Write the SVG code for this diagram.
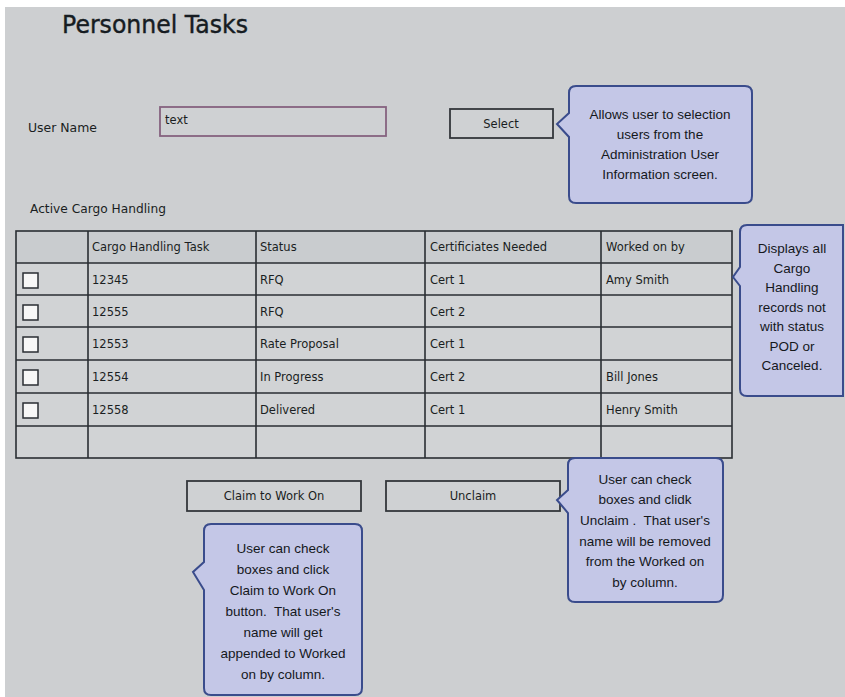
<svg xmlns="http://www.w3.org/2000/svg" width="845" height="697" viewBox="0 0 845 697">
<style>
.ui{font-family:"DejaVu Sans","Liberation Sans",sans-serif;font-size:11.5px;fill:#1a1e22}
.note{font-family:"Liberation Sans",Arial,sans-serif;font-size:13.5px;fill:#15181c;text-anchor:middle}
.grid{stroke:#2a2e33;stroke-width:1.6;fill:none}
.cb{fill:#f7f7f7;stroke:#2a2e33;stroke-width:1.5}
.btn{fill:#cfd1d3;stroke:#33373b;stroke-width:1.8}
.callout{fill:#c4c7e7;stroke:#3a4c8c;stroke-width:2}
</style>
<rect x="0" y="0" width="845" height="697" fill="#ffffff"/>
<rect x="5" y="7" width="840" height="690" fill="#cdcfd1"/>

<g id="title">
<text x="62" y="33" font-family="DejaVu Sans, sans-serif" font-size="24" fill="#161c22" stroke="#161c22" stroke-width="0.4" textLength="186" lengthAdjust="spacingAndGlyphs">Personnel Tasks</text>
</g>

<g id="username">
<text class="ui" x="28" y="132" textLength="69" lengthAdjust="spacingAndGlyphs">User Name</text>
<rect x="160" y="107" width="226" height="29" fill="#cfd1d3" stroke="#85627f" stroke-width="1.8"/>
<text class="ui" x="165" y="124">text</text>
</g>

<g id="select-button">
<rect class="btn" x="450" y="109" width="103" height="29"/>
<text class="ui" x="501" y="128" text-anchor="middle">Select</text>
</g>

<g id="section-label">
<text class="ui" x="30" y="213" textLength="136" lengthAdjust="spacingAndGlyphs">Active Cargo Handling</text>
</g>

<g id="table">
<rect x="16" y="231" width="716" height="32" fill="#c9cccf"/>
<rect x="16" y="263" width="716" height="195" fill="#d1d3d5"/>
<rect class="grid" x="16" y="231" width="716" height="227"/>
<path class="grid" d="M16,263H732M16,295H732M16,327H732M16,360H732M16,393H732M16,426H732M88,231V458M256,231V458M425,231V458M601,231V458"/>
<text class="ui" x="92" y="251">Cargo Handling Task</text>
<text class="ui" x="260" y="251">Status</text>
<text class="ui" x="430" y="251">Certificiates Needed</text>
<text class="ui" x="606" y="251">Worked on by</text>

<rect class="cb" x="23" y="273" width="15" height="15"/>
<text class="ui" x="92" y="284">12345</text>
<text class="ui" x="260" y="284">RFQ</text>
<text class="ui" x="430" y="284">Cert 1</text>
<text class="ui" x="606" y="284">Amy Smith</text>

<rect class="cb" x="23" y="305" width="15" height="15"/>
<text class="ui" x="92" y="316">12555</text>
<text class="ui" x="260" y="316">RFQ</text>
<text class="ui" x="430" y="316">Cert 2</text>

<rect class="cb" x="23" y="337" width="15" height="15"/>
<text class="ui" x="92" y="348">12553</text>
<text class="ui" x="260" y="348">Rate Proposal</text>
<text class="ui" x="430" y="348">Cert 1</text>

<rect class="cb" x="23" y="370" width="15" height="15"/>
<text class="ui" x="92" y="381">12554</text>
<text class="ui" x="260" y="381">In Progress</text>
<text class="ui" x="430" y="381">Cert 2</text>
<text class="ui" x="606" y="381">Bill Jones</text>

<rect class="cb" x="23" y="403" width="15" height="15"/>
<text class="ui" x="92" y="414">12558</text>
<text class="ui" x="260" y="414">Delivered</text>
<text class="ui" x="430" y="414">Cert 1</text>
<text class="ui" x="606" y="414">Henry Smith</text>
</g>

<g id="claim-button">
<rect class="btn" x="187" y="481" width="174" height="30"/>
<text class="ui" x="274" y="500" text-anchor="middle">Claim to Work On</text>
</g>

<g id="unclaim-button">
<rect class="btn" x="386" y="481" width="174" height="30"/>
<text class="ui" x="473" y="500" text-anchor="middle">Unclaim</text>
</g>

<g id="note-select">
<path class="callout" d="M576,86H745Q752,86 752,93V196Q752,203 745,203H576Q569,203 569,196V137L557,124L569,113V93Q569,86 576,86Z"/>
<text class="note" x="660" y="119" font-size="13">Allows user to selection</text>
<text class="note" x="660" y="139" font-size="13">users from the</text>
<text class="note" x="660" y="159" font-size="13">Administration User</text>
<text class="note" x="660" y="179" font-size="13">Information screen.</text>
</g>

<g id="note-table">
<path class="callout" d="M747,225H843V396H747Q740,396 740,389V286L733,277L740,267V232Q740,225 747,225Z"/>
<text class="note" x="792" y="253" font-size="13">Displays all</text>
<text class="note" x="792" y="273" font-size="13">Cargo</text>
<text class="note" x="792" y="292" font-size="13">Handling</text>
<text class="note" x="792" y="312" font-size="13">records not</text>
<text class="note" x="792" y="331" font-size="13">with status</text>
<text class="note" x="792" y="351" font-size="13">POD or</text>
<text class="note" x="792" y="370" font-size="13">Canceled.</text>
</g>

<g id="note-claim">
<path class="callout" d="M211,524H355Q362,524 362,531V688Q362,695 355,695H211Q204,695 204,688V590L193,572L204,562V531Q204,524 211,524Z"/>
<text class="note" x="283" y="553">User can check</text>
<text class="note" x="283" y="574">boxes and click</text>
<text class="note" x="283" y="595">Claim to Work On</text>
<text class="note" x="283" y="616" xml:space="preserve">button.  That user's</text>
<text class="note" x="283" y="637">name will get</text>
<text class="note" x="283" y="658">appended to Worked</text>
<text class="note" x="283" y="679">on by column.</text>
</g>

<g id="note-unclaim">
<path class="callout" d="M575,458H716Q723,458 723,465V595Q723,602 716,602H575Q568,602 568,595V513L557,500L568,490V465Q568,458 575,458Z"/>
<text class="note" x="645" y="484">User can check</text>
<text class="note" x="645" y="504">boxes and clidk</text>
<text class="note" x="645" y="525" xml:space="preserve">Unclaim .  That user's</text>
<text class="note" x="645" y="546">name will be removed</text>
<text class="note" x="645" y="566">from the Worked on</text>
<text class="note" x="645" y="587">by column.</text>
</g>

<g id="connectors"></g>
</svg>
